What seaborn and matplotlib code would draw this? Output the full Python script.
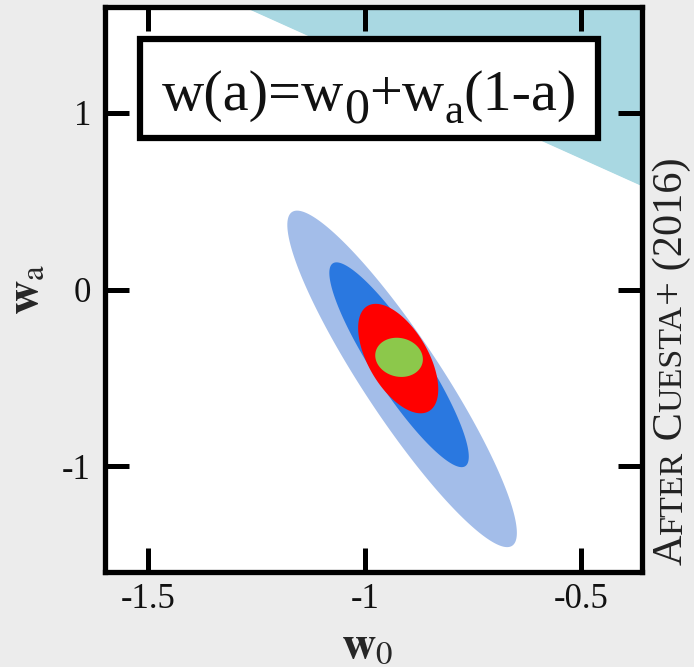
import numpy as np
import matplotlib
matplotlib.use("Agg")
import matplotlib.pyplot as plt
from matplotlib.patches import Rectangle
import seaborn as sns
import pandas as pd

# ---------------- data ----------------
# confidence ellipses: centre, half-extent in w0, half-extent in wa, correlation
ell_names = ["outer", "middle", "inner", "core"]
ell_w0_center = [-0.914, -0.921, -0.923, -0.921]
ell_wa_center = [-0.506, -0.426, -0.391, -0.384]
ell_w0_half = [0.265, 0.161, 0.0925, 0.055]
ell_wa_half = [0.953, 0.580, 0.310, 0.111]
ell_rho = [-0.915, -0.897, -0.56, -0.10]
ell_colors = ["#a3bde9", "#2a78e0", "#ff0000", "#8cc84b"]

# excluded (cyan) region boundary: straight line from top edge to right edge
cyan_w0 = [-1.275, -0.36]
cyan_wa = [1.60, 0.59]
cyan_color = "#a9d8e2"

xticks = [-1.5, -1.0, -0.5]
xtick_labels = ["-1.5", "-1", "-0.5"]
yticks = [1, 0, -1]
ytick_labels = ["1", "0", "-1"]
xlim = (-1.6, -0.36)
ylim = (-1.6, 1.6)

# title "w(a)=w0+wa(1-a)" as (text, size, baseline shift in pt)
title_pieces = [("w(a)=w", 42, 0), ("0", 36, -9), ("+w", 42, 0), ("a", 31, -9), ("(1-a)", 42, 0)]
credit_pieces = [("A", 30.5), ("FTER", 24.5), (" C", 30.5), ("UESTA", 24.5), ("+ (2016)", 30.5)]

# ---------------- styling ----------------
sns.set_theme(style="white")
plt.rcParams["font.family"] = ["Liberation Serif", "DejaVu Serif"]
plt.rcParams["mathtext.fontset"] = "stix"

fig = plt.figure(figsize=(6.94, 6.67), dpi=100, facecolor="#ececec")
ax = fig.add_axes([0.1513, 0.1424, 0.7738, 0.847])
ax.set_facecolor("white")
ax.set_axisbelow(False)

# cyan excluded region
cyan_df = pd.DataFrame({"w0": cyan_w0, "wa": cyan_wa})
ax.fill_between(cyan_df["w0"], cyan_df["wa"], ylim[1] + 1, color=cyan_color, lw=0, zorder=1)
sns.lineplot(data=cyan_df, x="w0", y="wa", color=cyan_color, lw=1, ax=ax, zorder=1)

# ellipses
t = np.linspace(0, 2 * np.pi, 400)
for cx, cy, a, b, r, c in zip(ell_w0_center, ell_wa_center, ell_w0_half,
                              ell_wa_half, ell_rho, ell_colors):
    x = cx + a * np.cos(t)
    y = cy + b * (r * np.cos(t) + np.sqrt(1 - r * r) * np.sin(t))
    ax.fill(x, y, color=c, lw=0, zorder=2)

ax.set_xlim(*xlim)
ax.set_ylim(*ylim)
ax.set_xticks(xticks)
ax.set_xticklabels(xtick_labels)
ax.set_yticks(yticks)
ax.set_yticklabels(ytick_labels)

for s in ax.spines.values():
    s.set_visible(True)
    s.set_linewidth(3.8)
    s.set_color("black")
    s.set_zorder(5)
ax.tick_params(axis="both", which="major", direction="in", length=17, width=3.6,
               color="black", bottom=True, left=True, top=True, right=True,
               labelsize=25, labelcolor="#111111")
ax.tick_params(axis="x", pad=8)
ax.tick_params(axis="y", pad=10)

ax.set_xlabel(r"$\mathbf{w}_{\mathrm{0}}$", fontsize=34)
ax.set_ylabel(r"$\mathbf{w}_{\mathrm{a}}$", fontsize=34)
ax.xaxis.set_label_coords(0.488, -0.095)
ax.yaxis.set_label_coords(-0.105, 0.5)

# title box
ax.add_patch(Rectangle((0.0652, 0.768), 0.853, 0.175, transform=ax.transAxes,
                       facecolor="white", edgecolor="black", lw=4.5, zorder=6))
base_y = 0.8177
s0, f0, d0 = title_pieces[0]
prev = ax.text(0.106, base_y, s0, transform=ax.transAxes, ha="left", va="baseline",
               fontsize=f0, zorder=7, color="#111111")
for s, f, d in title_pieces[1:]:
    prev = ax.annotate(s, xy=(1.0, base_y), xycoords=(prev, "axes fraction"),
                       xytext=(0, d), textcoords="offset points", ha="left",
                       va="baseline", fontsize=f, zorder=7, color="#111111",
                       annotation_clip=False)

# credit text in small caps, rotated
prev = fig.text(0.982, 0.153, credit_pieces[0][0], rotation=90, rotation_mode="anchor",
                ha="left", va="baseline", fontsize=credit_pieces[0][1], color="#222222")
for s, size in credit_pieces[1:]:
    prev = ax.annotate(s, xy=(0.982, 1.0), xycoords=("figure fraction", prev),
                       rotation=90, rotation_mode="anchor", ha="left", va="baseline",
                       fontsize=size, color="#222222", annotation_clip=False)

fig.savefig("out.png", dpi=100, facecolor=fig.get_facecolor())
